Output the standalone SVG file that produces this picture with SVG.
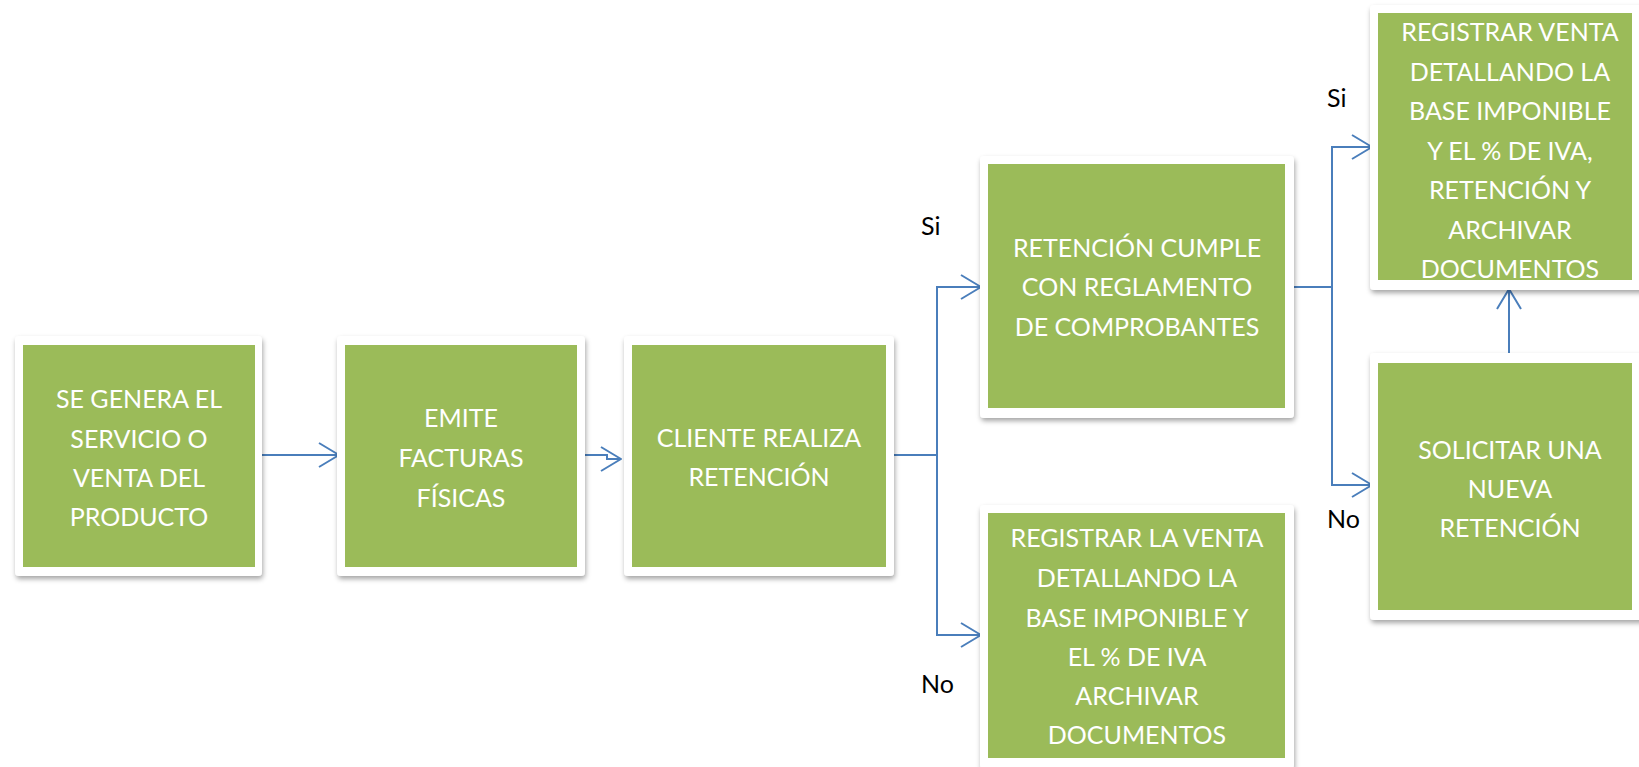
<svg xmlns="http://www.w3.org/2000/svg" width="1639" height="767" viewBox="0 0 1639 767">
<style>
.frame{fill:#ffffff;filter:url(#sh)}
.box{fill:#9BBB59}
.t{font-family:Lato,"Liberation Sans",sans-serif;font-size:25px;fill:#ffffff;text-anchor:middle}
.lbl{font-family:Lato,"Liberation Sans",sans-serif;font-size:25px;fill:#000000}
.c{fill:none;stroke:#4A7EBB;stroke-width:2;marker-end:url(#ah)}
</style>
<defs>
<filter id="sh" x="-10%" y="-10%" width="125%" height="125%">
<feDropShadow dx="1" dy="3" stdDeviation="2.5" flood-color="#000000" flood-opacity="0.35"/>
</filter>
<marker id="ah" markerUnits="userSpaceOnUse" markerWidth="26" markerHeight="30" refX="22" refY="14" orient="auto">
<path d="M2,2 L22,14 L2,26" fill="none" stroke="#4A7EBB" stroke-width="2" stroke-linejoin="round"/>
</marker>
</defs>
<rect width="1639" height="767" fill="#ffffff"/>
<g id="connectors">
<path class="c" d="M259,455 H339"/>
<path class="c" d="M583,455 H607 V459 H621"/>
<path class="c" d="M894,455 H937 V287 H981"/>
<path class="c" d="M937,455 V635 H981"/>
<path class="c" d="M1294,287 H1332 V147 H1372"/>
<path class="c" d="M1332,287 V485 H1372"/>
<path class="c" d="M1509,353 V289"/>
</g>
<g id="n1">
<rect class="frame" x="15" y="336" width="247" height="240" rx="4"/>
<rect class="box" x="23" y="345" width="232" height="222"/>
<text class="t" x="139" y="408">SE GENERA EL</text>
<text class="t" x="139" y="448">SERVICIO O</text>
<text class="t" x="139" y="487">VENTA DEL</text>
<text class="t" x="139" y="526">PRODUCTO</text>
</g>
<g id="n2">
<rect class="frame" x="337" y="336" width="248" height="240" rx="4"/>
<rect class="box" x="345" y="345" width="232" height="222"/>
<text class="t" x="461" y="427">EMITE</text>
<text class="t" x="461" y="467">FACTURAS</text>
<text class="t" x="461" y="507">FÍSICAS</text>
</g>
<g id="n3">
<rect class="frame" x="624" y="336" width="270" height="240" rx="4"/>
<rect class="box" x="632" y="345" width="254" height="222"/>
<text class="t" x="759" y="447">CLIENTE REALIZA</text>
<text class="t" x="759" y="486">RETENCIÓN</text>
</g>
<g id="n4">
<rect class="frame" x="980" y="156" width="314" height="262" rx="4"/>
<rect class="box" x="988" y="164" width="297" height="244"/>
<text class="t" x="1137" y="257">RETENCIÓN CUMPLE</text>
<text class="t" x="1137" y="296">CON REGLAMENTO</text>
<text class="t" x="1137" y="336">DE COMPROBANTES</text>
</g>
<g id="n5">
<rect class="frame" x="980" y="505" width="314" height="264" rx="4"/>
<rect class="box" x="988" y="513" width="297" height="245"/>
<text class="t" x="1137" y="547">REGISTRAR LA VENTA</text>
<text class="t" x="1137" y="587">DETALLANDO LA</text>
<text class="t" x="1137" y="627">BASE IMPONIBLE Y</text>
<text class="t" x="1137" y="666">EL % DE IVA</text>
<text class="t" x="1137" y="705">ARCHIVAR</text>
<text class="t" x="1137" y="744">DOCUMENTOS</text>
</g>
<g id="n6">
<rect class="frame" x="1370" y="5" width="280" height="285" rx="4"/>
<rect class="box" x="1378" y="13" width="254" height="267"/>
<text class="t" x="1510" y="41">REGISTRAR VENTA</text>
<text class="t" x="1510" y="81">DETALLANDO LA</text>
<text class="t" x="1510" y="120">BASE IMPONIBLE</text>
<text class="t" x="1510" y="160">Y EL % DE IVA,</text>
<text class="t" x="1510" y="199">RETENCIÓN Y</text>
<text class="t" x="1510" y="239">ARCHIVAR</text>
<text class="t" x="1510" y="278">DOCUMENTOS</text>
</g>
<g id="n7">
<rect class="frame" x="1370" y="353" width="280" height="267" rx="4"/>
<rect class="box" x="1378" y="363" width="254" height="247"/>
<text class="t" x="1510" y="459">SOLICITAR UNA</text>
<text class="t" x="1510" y="498">NUEVA</text>
<text class="t" x="1510" y="537">RETENCIÓN</text>
</g>
<g id="labels">
<text class="lbl" x="921" y="235">Si</text>
<text class="lbl" x="921" y="693">No</text>
<text class="lbl" x="1327" y="107">Si</text>
<text class="lbl" x="1327" y="528">No</text>
</g>
</svg>
